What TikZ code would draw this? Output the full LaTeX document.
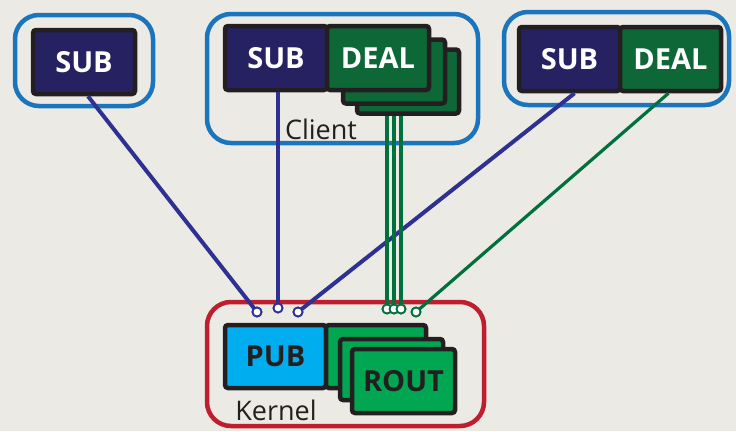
\documentclass[tikz,border=0pt]{standalone}
\usepackage{fontspec}
\setmainfont{Open Sans}
\definecolor{bg}{HTML}{ECEAE5}
\definecolor{navy}{HTML}{262262}
\definecolor{dgreen}{HTML}{0E6737}
\definecolor{bgreen}{HTML}{00A651}
\definecolor{cyanfill}{HTML}{00AEEF}
\definecolor{cblue}{HTML}{1B75BC}
\definecolor{kred}{HTML}{BE1E2D}
\definecolor{lblue}{HTML}{2E3192}
\definecolor{lgreen}{HTML}{00703C}
\definecolor{ink}{HTML}{231F20}
\tikzset{
  box/.style={draw=ink, line width=4.5pt, rounded corners=3pt, inner sep=0pt,
    font=\fontsize{29}{30}\selectfont\bfseries, minimum height=64pt},
  subbox/.style={box, fill=navy, text=white, minimum width=102pt},
  dealbox/.style={box, fill=dgreen, text=white, minimum width=102pt},
  pubbox/.style={box, fill=cyanfill, text=ink, minimum width=101pt, minimum height=63pt},
  routbox/.style={box, fill=bgreen, text=ink, minimum width=103pt},
  cont/.style={draw=cblue, line width=4.5pt, rounded corners=24pt, inner sep=0pt},
  kcont/.style={draw=kred, line width=4.5pt, rounded corners=24pt, inner sep=0pt},
  lbl/.style={font=\fontsize{27}{28}\selectfont, text=ink, inner sep=0pt},
  bline/.style={draw=lblue, line width=4pt},
  gline/.style={draw=lgreen, line width=3.2pt},
  bdot/.style={circle, draw=lblue, fill=white, line width=1.8pt, minimum size=9pt, inner sep=0pt},
  gdot/.style={circle, draw=lgreen, fill=white, line width=1.8pt, minimum size=9pt, inner sep=0pt},
}
\begin{document}
\begin{tikzpicture}[x=1pt,y=-1pt]
\fill[bg] (0,0) rectangle (736,431);
\useasboundingbox (0,0) rectangle (736,431);

% containers
\node[cont, minimum width=138pt, minimum height=91pt] (c1) at (84,60.5) {};
\node[cont, minimum width=271pt, minimum height=129pt] (c2) at (342.5,78.5) {};
\node[cont, minimum width=225pt, minimum height=93pt] (c3) at (616.5,58.5) {};
\node[kcont, minimum width=277pt, minimum height=124pt] (k) at (345.5,364) {};

% labels
\node[lbl] (client) at (321,129) {Client};
\node[lbl] (kernel) at (276,410) {Kernel};

% connection dots
\node[bdot] (b1) at (257,312) {};
\node[bdot] (b2) at (278,308) {};
\node[bdot] (b3) at (298,312) {};
\node[gdot] (g1) at (387,309) {};
\node[gdot] (g2) at (394,309) {};
\node[gdot] (g3) at (401,309) {};
\node[gdot] (g4) at (416,312) {};

% client 1
\node[subbox] (s1) at (84,62) {SUB};
% client 2
\node[dealbox] (d3) at (408,81.5) {};
\node[dealbox] (d2) at (394,71.5) {};
\node[subbox] (s2) at (276,58) {SUB};
\node[dealbox] (d1) at (378,58) {DEAL};
% client 3
\node[subbox, minimum width=101pt] (s3) at (569.5,59) {SUB};
\node[dealbox, minimum width=101pt] (d4) at (670.5,59) {DEAL};

% kernel
\node[pubbox] (pub) at (275.5,356.5) {PUB};
\node[routbox, minimum width=100pt, minimum height=63pt] (r1) at (376,356.5) {};
\node[routbox, minimum height=61pt] (r2) at (391.5,369.5) {};
\node[routbox] (r3) at (403.5,381) {ROUT};

% connectors
\draw[bline] ([xshift=4pt]s1.south) -- (b1.center);
\draw[bline] (s2.south -| b2) -- (b2.center);
\draw[bline] ([xshift=5pt]s3.south) -- (b3.center);
\draw[gline] ([xshift=-2pt]d4.south) -- (g4.center);
\draw[gline] (d3.south -| g1) -- (g1.center);
\draw[gline] (d3.south -| g2) -- (g2.center);
\draw[gline] (d3.south -| g3) -- (g3.center);

% dots on top
\foreach \n in {b1,b2,b3}{\node[bdot] at (\n) {};}
\foreach \n in {g1,g2,g3,g4}{\node[gdot] at (\n) {};}
\end{tikzpicture}
\end{document}
